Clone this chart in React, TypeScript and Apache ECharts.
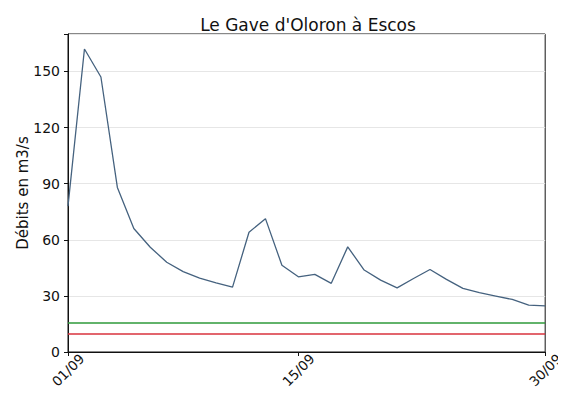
import React, { useEffect, useRef } from "react";
import * as echarts from "echarts";

// Daily dates of September
const dates = [
  "01/09", "02/09", "03/09", "04/09", "05/09", "06/09", "07/09", "08/09", "09/09", "10/09",
  "11/09", "12/09", "13/09", "14/09", "15/09", "16/09", "17/09", "18/09", "19/09", "20/09",
  "21/09", "22/09", "23/09", "24/09", "25/09", "26/09", "27/09", "28/09", "29/09", "30/09",
];

// Daily discharge (m3/s)
const debits = [
  78, 162, 147, 88, 66, 56, 48, 43, 39.5, 37,
  34.7, 64, 71.3, 46.4, 40.2, 41.5, 36.7, 56.2, 43.8, 38.4,
  34.3, 39.3, 44.1, 38.8, 34, 31.7, 29.9, 28.1, 25.1, 24.7,
];

// Threshold levels (m3/s)
const seuilVert = 15.5;
const seuilRouge = 10;

const yTicks = [0, 30, 60, 90, 120, 150];
const shownLabels = ["01/09", "15/09", "30/09"];

const FONT = "DejaVu Sans";

export default function App() {
  const ref = useRef<HTMLDivElement>(null);

  useEffect(() => {
    if (!ref.current) return;
    const chart = echarts.init(ref.current, null, { renderer: "svg" });
    const showIdx = (i: number) => shownLabels.includes(dates[i]);
    chart.setOption({
      animation: false,
      backgroundColor: "#fff",
      title: {
        text: "Le Gave d'Oloron à Escos",
        left: 303,
        textAlign: "center",
        top: 11,
        textStyle: { fontFamily: FONT, fontSize: 17, fontWeight: "normal", color: "#111" },
      },
      grid: {
        left: 68,
        right: 17,
        top: 34,
        bottom: 44,
        show: true,
        borderColor: "#111",
        borderWidth: 1,
        backgroundColor: "transparent",
      },
      xAxis: {
        type: "category",
        data: dates,
        boundaryGap: false,
        axisLine: { lineStyle: { color: "#111" } },
        axisTick: {
          alignWithLabel: true,
          interval: (i: number) => showIdx(i),
          length: 4,
          lineStyle: { color: "#111" },
        },
        axisLabel: {
          interval: (i: number) => showIdx(i),
          rotate: 45,
          align: "center",
          verticalAlign: "middle",
          fontFamily: FONT,
          fontSize: 13.5,
          color: "#111",
          margin: 18,
        },
        splitLine: { show: false },
      },
      yAxis: {
        type: "value",
        min: 0,
        max: 170,
        interval: 30,
        name: "Débits en m3/s",
        nameLocation: "middle",
        nameGap: 38,
        nameMoveOverlap: false,
        nameTextStyle: { fontFamily: FONT, fontSize: 15, color: "#111" },
        axisLine: { show: true, lineStyle: { color: "#111" } },
        axisTick: { show: true, length: 4, lineStyle: { color: "#111" } },
        axisLabel: {
          fontFamily: FONT,
          fontSize: 14,
          color: "#111",
          margin: 8,
          formatter: (v: number) => (yTicks.includes(v) ? String(v) : ""),
        },
        splitLine: { show: true, lineStyle: { color: "#e6e6e6", width: 1 } },
      },
      series: [
        {
          type: "line",
          data: debits,
          symbol: "none",
          lineStyle: { color: "#45627f", width: 1.3 },
          markLine: {
            symbol: "none",
            silent: true,
            label: { show: false },
            data: [
              { yAxis: seuilVert, lineStyle: { color: "#2e9a3a", width: 1.5, type: "solid" } },
              { yAxis: seuilRouge, lineStyle: { color: "#d8323c", width: 1.5, type: "solid" } },
            ],
          },
        },
      ],
    });
    return () => chart.dispose();
  }, []);

  return <div ref={ref} style={{ width: 566, height: 396, margin: -8 }} />;
}
